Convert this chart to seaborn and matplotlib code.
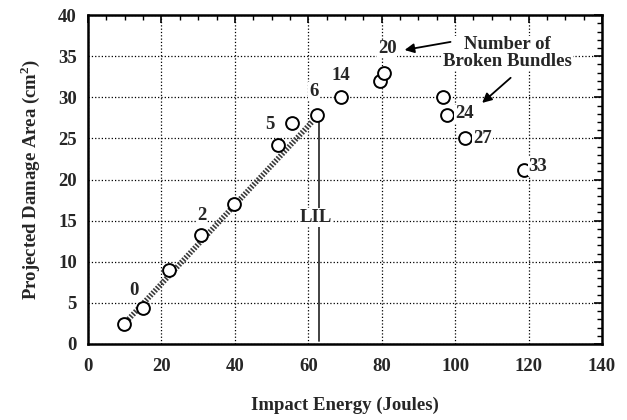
import numpy as np
import pandas as pd
import seaborn as sns
import matplotlib
matplotlib.use('Agg')
import matplotlib.pyplot as plt
from matplotlib.ticker import MultipleLocator

# datos
energia = [9.8, 15.0, 22.1, 30.8, 39.8, 51.8, 55.7, 62.3, 68.8, 79.6, 80.7, 96.6, 97.7, 102.6, 118.9]
area = [2.4, 4.4, 9.0, 13.2, 17.0, 24.2, 26.9, 27.9, 30.1, 32.0, 33.0, 30.1, 27.9, 25.0, 21.2]

# numero de haces rotos (etiquetas)
etiquetas = ["0", "2", "5", "6", "14", "20", "24", "27", "33"]
etiq_x = [12.5, 31.0, 49.5, 61.5, 69.0, 81.5, 102.5, 107.5, 122.5]
etiq_y = [6.5, 15.6, 26.7, 30.7, 32.7, 35.9, 28.0, 25.0, 21.6]

# recta de ajuste y linea LIL
ajuste_x = [11.0, 61.0]
ajuste_y = [3.0, 27.0]
lil_x = 63.0
lil_y = [0.4, 27.3]

FS = 13.5

sns.set_style("white")
plt.rcParams['font.family'] = ['Liberation Serif', 'DejaVu Serif']
plt.rcParams['font.weight'] = 'bold'
plt.rcParams['mathtext.fontset'] = 'custom'
plt.rcParams['mathtext.rm'] = 'Liberation Serif:bold'
plt.rcParams['mathtext.bf'] = 'Liberation Serif:bold'

fig = plt.figure(figsize=(6.27, 4.2), dpi=100)
ax = fig.add_axes([0.1404, 0.181, 0.8196, 0.783])

# recta rayada (grosor + guiones finos)
ax.plot(ajuste_x, ajuste_y, color='#3a3a3a', linewidth=4, dashes=(0.3, 0.28), zorder=2)
ax.plot([lil_x, lil_x], lil_y, color='#333333', linewidth=1.3, zorder=2)

df = pd.DataFrame({"Energia": energia, "Area": area})
sns.scatterplot(data=df, x="Energia", y="Area", ax=ax, s=85, marker='o',
                facecolor='white', edgecolor='black', linewidth=1.4, zorder=3)

for t, x, y in zip(etiquetas, etiq_x, etiq_y):
    ax.text(x, y, t, fontsize=FS, fontweight='bold', ha='center', va='center', zorder=4,
            bbox=dict(facecolor='white', edgecolor='none', pad=0.5))

ax.text(62.0, 15.4, "LIL", fontsize=FS, fontweight='bold', ha='center', va='center', zorder=4,
        bbox=dict(facecolor='white', edgecolor='none', pad=0.8))

ax.text(114.3, 35.35, "Number of\nBroken Bundles", fontsize=FS, fontweight='bold',
        ha='center', va='center', linespacing=1.0, zorder=4,
        bbox=dict(facecolor='white', edgecolor='none', pad=0.5))
ax.annotate("", xy=(85.5, 35.7), xytext=(99.5, 36.8),
            arrowprops=dict(arrowstyle='-|>', color='black', lw=1.3, mutation_scale=14), zorder=4)
ax.annotate("", xy=(106.8, 29.1), xytext=(115.7, 32.6),
            arrowprops=dict(arrowstyle='-|>', color='black', lw=1.3, mutation_scale=14), zorder=4)

ax.set_xlim(0, 140)
ax.set_ylim(0, 40)
ax.xaxis.set_major_locator(MultipleLocator(20))
ax.xaxis.set_minor_locator(MultipleLocator(5))
ax.yaxis.set_major_locator(MultipleLocator(5))
ax.yaxis.set_minor_locator(MultipleLocator(1))
ax.tick_params(which='both', direction='in', top=True, right=True, color='black')
ax.tick_params(which='major', length=6, width=1.2, labelsize=FS, pad=8)
ax.tick_params(axis='x', which='major', pad=10)
ax.tick_params(which='minor', length=3.5, width=1.0)
ax.grid(True, which='major', linestyle=':', color='black', linewidth=0.9)
for sp in ax.spines.values():
    sp.set_linewidth(1.8)
    sp.set_color('black')
for lab in ax.get_xticklabels() + ax.get_yticklabels():
    lab.set_fontweight('bold')

ax.set_xlabel("Impact Energy (Joules)", fontsize=FS, fontweight='bold', labelpad=16)
ax.set_ylabel(r"Projected Damage Area (cm$^{2}$)", fontsize=FS, fontweight='bold', labelpad=12)

plt.savefig('out.png', dpi=100)
